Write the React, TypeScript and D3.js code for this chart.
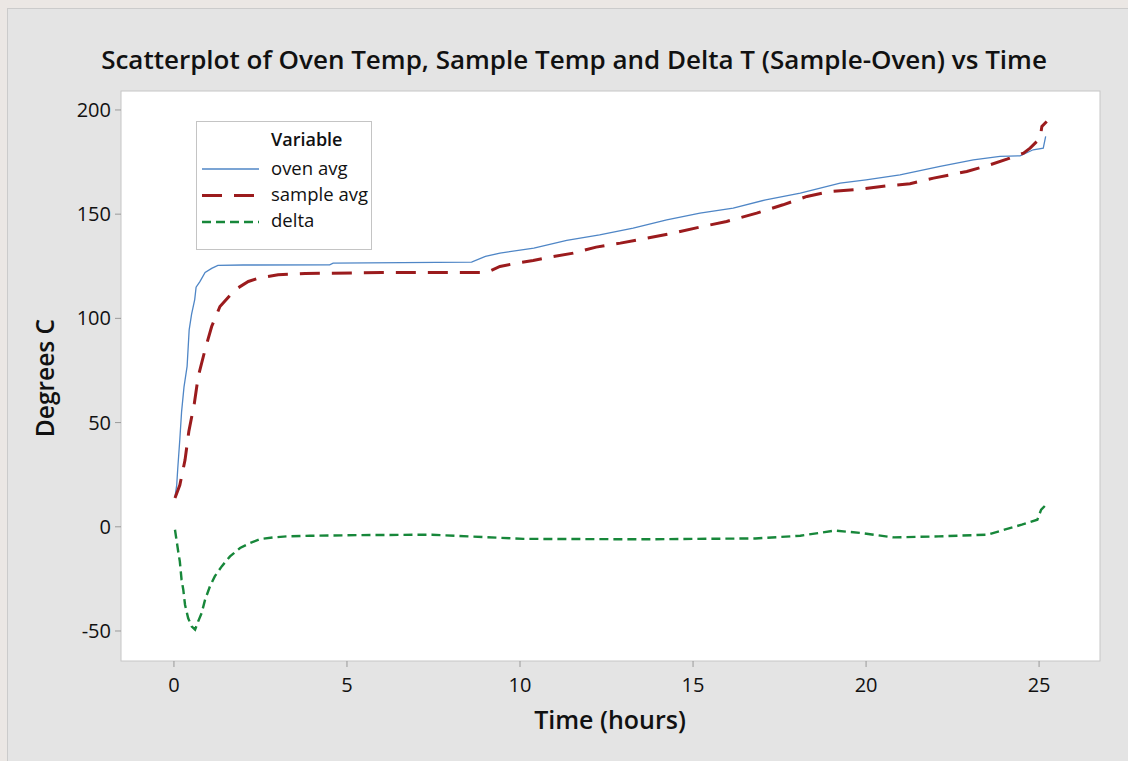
import React from 'react';
import {scaleLinear,line,curveLinear} from 'd3';

// values: hours -> degrees C
const ovenTime=[0.03,0.08,0.11,0.17,0.22,0.29,0.38,0.44,0.51,0.6,0.64,0.75,0.9,1.09,1.27,2.0,4.5,4.6,8.6,9.0,9.42,10.4,11.35,12.3,13.27,14.24,15.2,16.16,17.1,18.1,19.25,20.0,20.98,22.14,23.1,23.87,24.45,24.83,25.12,25.19]
const ovenAvg=[14.4,20,28,42,55,67,77,94.5,102,109,115,117.6,122,124,125.4,125.6,125.7,126.5,127,129.7,131.3,133.7,137.4,140.1,143.3,147.3,150.5,152.9,156.9,160.1,164.9,166.5,168.9,172.9,176.1,177.7,178,180.9,181.7,187.3]

const sampleTime=[0.03,0.17,0.32,0.43,0.59,0.7,0.9,1.09,1.33,1.76,2.15,2.44,3.01,3.79,6,9.04,9.42,9.9,10.38,10.96,11.54,12.2,12.9,13.66,14.43,15.2,15.97,16.84,17.6,18.29,18.96,19.83,20.6,21.27,21.95,22.91,23.49,24.07,24.55,24.74,25.03,25.08,25.22]
const sampleAvg=[13.8,20,32,45.7,59.3,72,85,96.1,105.7,113.7,117.7,119.3,120.9,121.5,122,122,124.9,126.5,127.8,129.7,131.3,134.2,136.1,138.5,140.9,143.8,146.5,150.5,154.5,158.5,160.9,162,163.6,164.6,167.3,170.5,173.2,176.4,179.3,181.7,186.5,192.1,194.5]

const deltaTime=[0.03,0.13,0.17,0.22,0.27,0.32,0.41,0.51,0.61,0.7,0.8,0.9,1.04,1.18,1.38,1.62,1.91,2.2,2.49,2.87,3.26,3.93,5.4,7.45,8.5,10.1,13.5,16.8,18.1,19.1,19.86,20.8,22.1,23.5,24.0,24.5,24.95,25.06,25.2]
const deltaVal=[-1.4,-12.6,-16.6,-25.4,-30.2,-37.4,-43.8,-47.8,-49.4,-45.4,-41.4,-35,-28.6,-23.8,-19,-14.2,-10.2,-7.8,-5.9,-5.1,-4.6,-4.3,-4.0,-3.8,-4.6,-5.8,-6,-5.6,-4.3,-1.8,-3,-5.1,-4.6,-3.8,-1.4,1,3.4,8.2,10.6]

const xTicks=[0,5,10,15,20,25]
const yTicks=[-50,0,50,100,150,200]
const legendNames=["oven avg","sample avg","delta"]

const font="'Open Sans', 'Noto Sans', sans-serif"
const colors=["#4f86c6","#9b1b1d","#17873a"]
const dashes=["none","20,12","9,5"]
const widths=[1.3,3,2.4]

export default function App(){
  const W=1128,H=761
  const L=121,R=1100,T=91,B=661

  const x=scaleLinear().domain([-1.53,26.76]).range([L,R])
  const y=scaleLinear().domain([-64.4,209.1]).range([B,T])

  const mk=(ts:number[],vs:number[])=>line<number>().x((d,i)=>x(ts[i])).y(d=>y(d)).curve(curveLinear)(vs)
  const paths=[mk(ovenTime,ovenAvg),mk(sampleTime,sampleAvg),mk(deltaTime,deltaVal)]

  return (
    <svg width={W} height={H} style={{position:"absolute",left:0,top:0}} fontFamily={font}>
      <rect x={0} y={0} width={W} height={H} fill="#ebe7e4"/>
      <rect x={7.5} y={8.5} width={W} height={H} fill="#e4e4e4" stroke="#cbcbcb"/>
      <text x={574} y={69} textAnchor="middle" fontSize={26} fontWeight={600} fill="#111">Scatterplot of Oven Temp, Sample Temp and Delta T (Sample-Oven) vs Time</text>

      <rect x={L} y={T} width={R-L} height={B-T} fill="#fff" stroke="#c6c6c6"/>
      <defs>
        <clipPath id="plotclip"><rect x={L} y={T} width={R-L} height={B-T}/></clipPath>
      </defs>

      {yTicks.map(t=>(
        <g key={t}>
          <line x1={L-6} x2={L} y1={y(t)} y2={y(t)} stroke="#9a9a9a"/>
          <text x={L-10} y={y(t)} dy="0.35em" textAnchor="end" fontSize={20} fontWeight={500} fill="#111">{t}</text>
        </g>
      ))}
      {xTicks.map(t=>(
        <g key={t}>
          <line x1={x(t)} x2={x(t)} y1={B} y2={B+6} stroke="#9a9a9a"/>
          <text x={x(t)} y={685} dy="0.35em" textAnchor="middle" fontSize={20} fontWeight={500} fill="#111">{t}</text>
        </g>
      ))}

      <text x={610} y={720} dy="0.35em" textAnchor="middle" fontSize={25} fontWeight={600} fill="#111">Time (hours)</text>
      <text transform={`translate(45,378) rotate(-90)`} dy="0.35em" textAnchor="middle" fontSize={24.5} fontWeight={600} fill="#111">Degrees C</text>

      <g clipPath="url(#plotclip)">
        {paths.map((p,i)=>(
          <path key={i} d={p||""} fill="none" stroke={colors[i]} strokeWidth={widths[i]} strokeDasharray={dashes[i]} strokeLinejoin="miter"/>
        ))}
      </g>

      <rect x={196.5} y={121.5} width={175} height={128} fill="#fff" stroke="#c4c4c4"/>
      <text x={271} y={146} fontSize={18} fontWeight={600} fill="#111">Variable</text>
      {legendNames.map((n,i)=>(
        <g key={n}>
          <line x1={202} x2={259} y1={169+i*26.5} y2={169+i*26.5} stroke={colors[i]} strokeWidth={i==0?1.3:widths[i]} strokeDasharray={dashes[i]}/>
          <text x={271} y={175+i*26} fontSize={18.5} fontWeight={500} fill="#111">{n}</text>
        </g>
      ))}
    </svg>
  )
}
